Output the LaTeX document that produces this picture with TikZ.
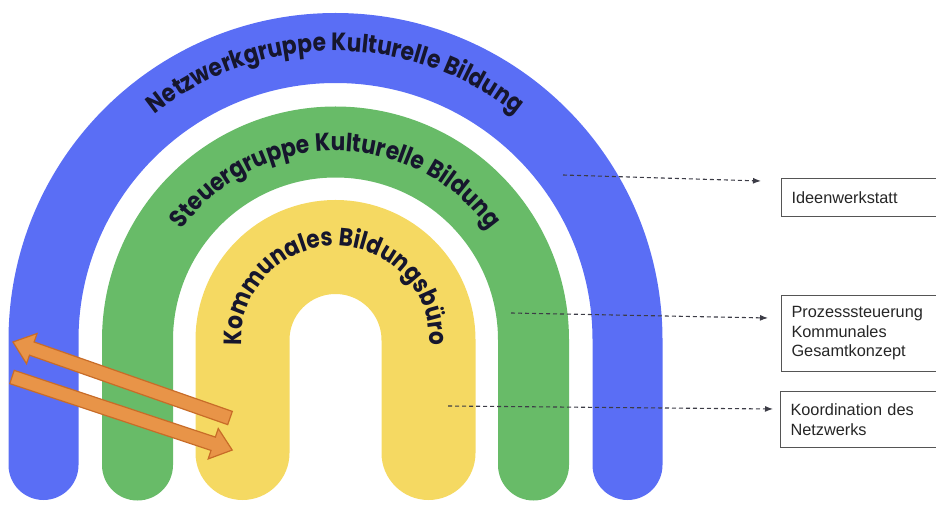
\documentclass[tikz,border=0pt]{standalone}
\usepackage{fontspec}
\usetikzlibrary{decorations.text, arrows.meta}
\newfontfamily\arcfont{Poppins}[FakeStretch=0.87]
\newfontfamily\boxfont{Liberation Sans}
\definecolor{bandblue}{RGB}{90,110,245}
\definecolor{bandgreen}{RGB}{104,187,104}
\definecolor{bandyellow}{RGB}{245,217,98}
\definecolor{arrowfill}{RGB}{232,148,72}
\definecolor{arrowline}{RGB}{200,108,40}
\definecolor{txtdark}{RGB}{22,22,45}
\definecolor{conncol}{RGB}{60,60,70}
\definecolor{boxline}{RGB}{85,85,85}
\begin{document}
\begin{tikzpicture}[x=1pt,y=1pt,
  band/.style={line cap=round, line width=#1},
  conn/.style={draw=conncol, line width=1.1pt, dash pattern=on 4pt off 3pt, -{Latex[length=8pt,width=6pt]}},
  infobox/.style={draw=boxline, line width=1.1pt, anchor=north west, inner xsep=10pt, text width=159pt, align=left, font=\boxfont\fontsize{16.3}{19.5}\selectfont, text=black!85},
  blockarrow/.style={fill=arrowfill, draw=arrowline, line width=1.2pt, line join=miter}
]
\useasboundingbox (0,0) rectangle (936,504);
\clip (0,0) rectangle (936,504);
\coordinate (ctr) at (335.5,164);

% bands
\draw[bandblue, band=70pt] (43.5,39) -- (43.5,164) arc[start angle=180,end angle=0,radius=292] -- (627.5,39);
\draw[bandgreen, band=71pt] (137.5,39) -- (137.5,164) arc[start angle=180,end angle=0,radius=198] -- (533.5,39);
\draw[bandyellow, band=94pt] (242.5,51) -- (242.5,164) arc[start angle=180,end angle=0,radius=93] -- (428.5,51);

% texts along the bands
\path[decorate, decoration={text along path, text align=center, text={|\arcfont\bfseries\fontsize{25}{25}\selectfont\color{txtdark}|Netzwerkgruppe Kulturelle Bildung}}] ([shift={(200:289)}]ctr) arc[start angle=200,end angle=-20,radius=289];
\path[decorate, decoration={text along path, text align=center, text={|\arcfont\bfseries\fontsize{25}{25}\selectfont\color{txtdark}|Steuergruppe Kulturelle Bildung}}] ([shift={(200:189)}]ctr) arc[start angle=200,end angle=-20,radius=189];
\path[decorate, decoration={text along path, text align=center, text={|\arcfont\bfseries\fontsize{25}{25}\selectfont\color{txtdark}|Kommunales Bildungsbüro}}] ([shift={(200:94)}]ctr) arc[start angle=200,end angle=-20,radius=94];

% orange block arrows
\begin{scope}[shift={(230,86)}, rotate=160.7]
\draw[blockarrow] (0,-7) -- (210,-7) -- (210,-16) -- (230,0) -- (210,16) -- (210,7) -- (0,7) -- cycle;
\end{scope}
\begin{scope}[shift={(12,127)}, rotate=-18.35]
\draw[blockarrow] (0,-7) -- (212,-7) -- (212,-16) -- (232,0) -- (212,16) -- (212,7) -- (0,7) -- cycle;
\end{scope}

% boxes
\node[infobox, minimum height=38pt] (b1) at (781,326) {Ideenwerkstatt};
\node[infobox, minimum height=76pt] (b2) at (781,209) {Prozesssteuerung\\Kommunales\\Gesamtkonzept};
\node[infobox, minimum height=56pt] (b3) at (780,113) {Koordination des\\Netzwerks};

% connectors
\coordinate (s1) at (563,329); \coordinate (t1) at (761,323);
\coordinate (s2) at (511,191); \coordinate (t2) at (768,186);
\coordinate (s3) at (448,98);  \coordinate (t3) at (773,95);
\draw[conn] (s1) -- (t1);
\draw[conn] (s2) -- (t2);
\draw[conn] (s3) -- (t3);
\end{tikzpicture}
\end{document}
